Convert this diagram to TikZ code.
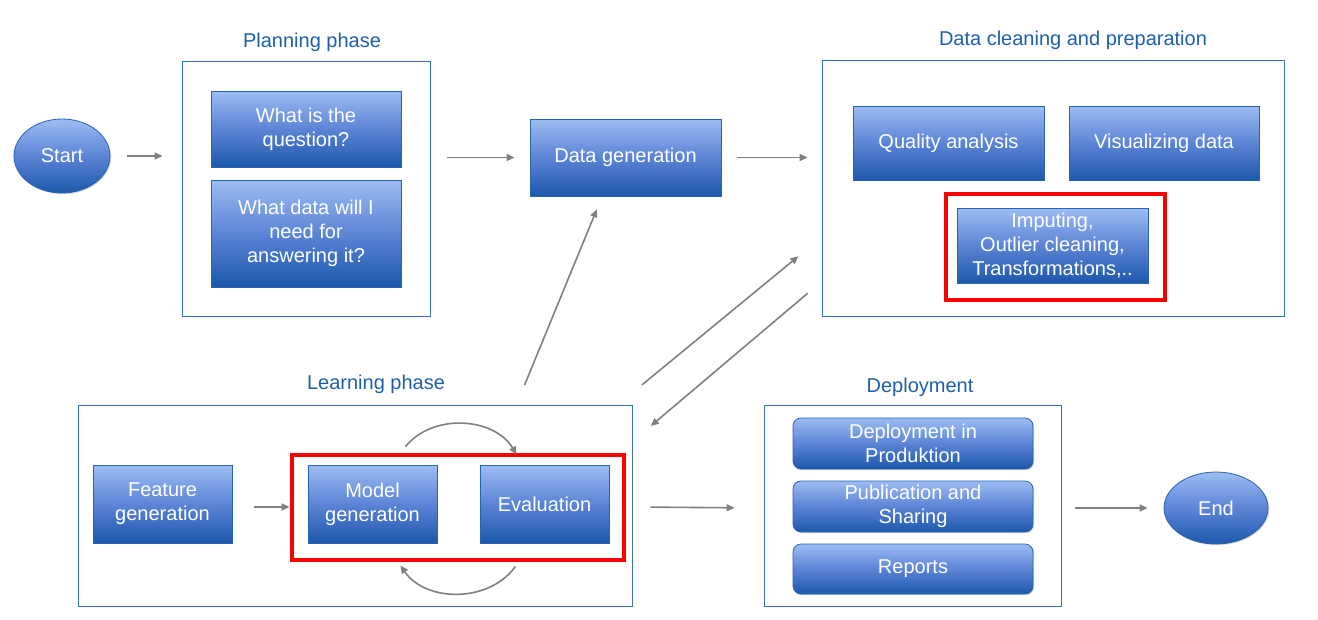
\documentclass[tikz,border=0pt]{standalone}
\usepackage{fontspec}
\setmainfont{Liberation Sans}
\definecolor{boxtop}{RGB}{157,188,242}
\definecolor{boxmid}{RGB}{92,132,214}
\definecolor{boxbot}{RGB}{28,88,170}
\definecolor{boxline}{RGB}{40,100,180}
\definecolor{frameblue}{RGB}{55,115,190}
\definecolor{titleblue}{RGB}{30,95,170}
\definecolor{flowgray}{RGB}{128,128,128}
\definecolor{markred}{RGB}{250,0,0}
\usetikzlibrary{shapes.geometric,shadows,arrows.meta,positioning}

\begin{document}
\begin{tikzpicture}[x=1pt, y=-1pt,
  every node/.style={font=\fontsize{20}{24}\selectfont, inner sep=0pt, align=center},
  task/.style={rectangle, draw=boxline, line width=0.8pt, text=white,
    top color=boxtop, bottom color=boxbot, middle color=boxmid,
    drop shadow={shadow xshift=1.2pt, shadow yshift=-1.2pt, opacity=0.3}},
  rtask/.style={task, rounded corners=8pt},
  term/.style={task, ellipse},
  frame/.style={rectangle, draw=frameblue, line width=0.9pt},
  redmark/.style={rectangle, draw=markred, line width=3.2pt},
  heading/.style={text=titleblue},
  flow/.style={draw=flowgray, line width=1.6pt, -{Triangle[length=8pt,width=7pt]},
    shorten <=16pt, shorten >=16pt}]
  \useasboundingbox (0,0) rectangle (1318,619);

  %% Start and end
  \node (start) [term, minimum width=96, minimum height=74] at (62,156) {Start};
  \node (end) [term, minimum width=104, minimum height=72] at (1216,508) {End};

  %% Planning phase
  \node (plan) [frame, minimum width=248, minimum height=255] at (306,188.5) {};
  \node (plantitle) [heading] at (312,42) {Planning phase};
  \node (question) [task, minimum width=190, minimum height=76] at (306,129) {What is the\\question?};
  \node (needdata) [task, minimum width=190, minimum height=107] at (306,233.5) {What data will I\\need for\\answering it?};

  %% Data generation
  \node (datagen) [task, minimum width=191, minimum height=77] at (625.5,157.5) {Data generation};

  %% Data cleaning and preparation
  \node (clean) [frame, minimum width=462, minimum height=256] at (1053,188) {};
  \node (cleantitle) [heading] at (1073,40) {Data cleaning and preparation};
  \node (quality) [task, minimum width=191, minimum height=74] at (948.5,143) {Quality analysis};
  \node (visual) [task, minimum width=190, minimum height=74] at (1164,143) {Visualizing data};
  \node (cleanmark) [redmark, minimum width=219, minimum height=106] at (1055.5,247) {};
  \node (impute) [task, minimum width=191, minimum height=75] at (1052.5,245.5) {Imputing,\\Outlier cleaning,\\Transformations,..};

  %% Learning phase
  \node (learn) [frame, minimum width=554, minimum height=201] at (355,505.5) {};
  \node (learntitle) [heading] at (376,384) {Learning phase};
  \node (feature) [task, minimum width=139, minimum height=78] at (162.5,504) {Feature\\generation};
  \node (learnmark) [redmark, minimum width=332, minimum height=105] at (458,507.5) {};
  \node (model) [task, minimum width=129, minimum height=78] at (372.5,504) {Model\\generation};
  \node (evaluation) [task, minimum width=129, minimum height=78] at (544.5,504) {Evaluation};

  %% Deployment
  \node (deploy) [frame, minimum width=297, minimum height=201] at (912.5,505.5) {};
  \node (deploytitle) [heading] at (920,387) {Deployment};
  \node (produktion) [rtask, minimum width=240, minimum height=51] at (913,443.5) {Deployment in\\Produktion};
  \node (publication) [rtask, minimum width=240, minimum height=51] at (913,506.5) {Publication and\\Sharing};
  \node (reports) [rtask, minimum width=240, minimum height=50] at (913,569) {Reports};

  %% Flow between the phases
  \draw[flow, shorten <=17pt, shorten >=19pt] (start) -- (plan.west |- start);
  \draw[flow, shorten <=17pt, shorten >=15pt] (plan.east |- datagen) -- (datagen);
  \draw[flow, shorten >=14pt] (datagen) -- (clean.west |- datagen);
  \draw[flow, shorten <=21pt, shorten >=14pt] (learn.32) -- (datagen.239);
  \draw[flow, shorten <=31pt, shorten >=30pt] (learn.21.5) -- (clean.192.6);
  \draw[flow, shorten <=18pt, shorten >=24pt] (clean.202.7) -- (learn.13.6);
  \draw[flow, shorten <=22pt, shorten >=18pt] (feature.east |- 0,507) -- (model.west |- 0,507);
  \draw[flow, shorten <=18pt, shorten >=29pt] (learn.east |- 0,507) -- (deploy.west |- 0,508);
  \draw[flow, shorten <=14pt, shorten >=16pt] (deploy.east |- end) -- (end);

  %% Model loop
  \draw[flow, shorten <=0pt, shorten >=0pt] ([xshift=-32pt, yshift=18pt]model.north east)
    to[bend left=55] ([xshift=37pt, yshift=10pt]evaluation.north west);
  \draw[flow, shorten <=0pt, shorten >=0pt] ([xshift=-94pt, yshift=-23pt]evaluation.south east)
    to[bend left=55] ([xshift=-37pt, yshift=-22pt]model.south east);
\end{tikzpicture}
\end{document}
